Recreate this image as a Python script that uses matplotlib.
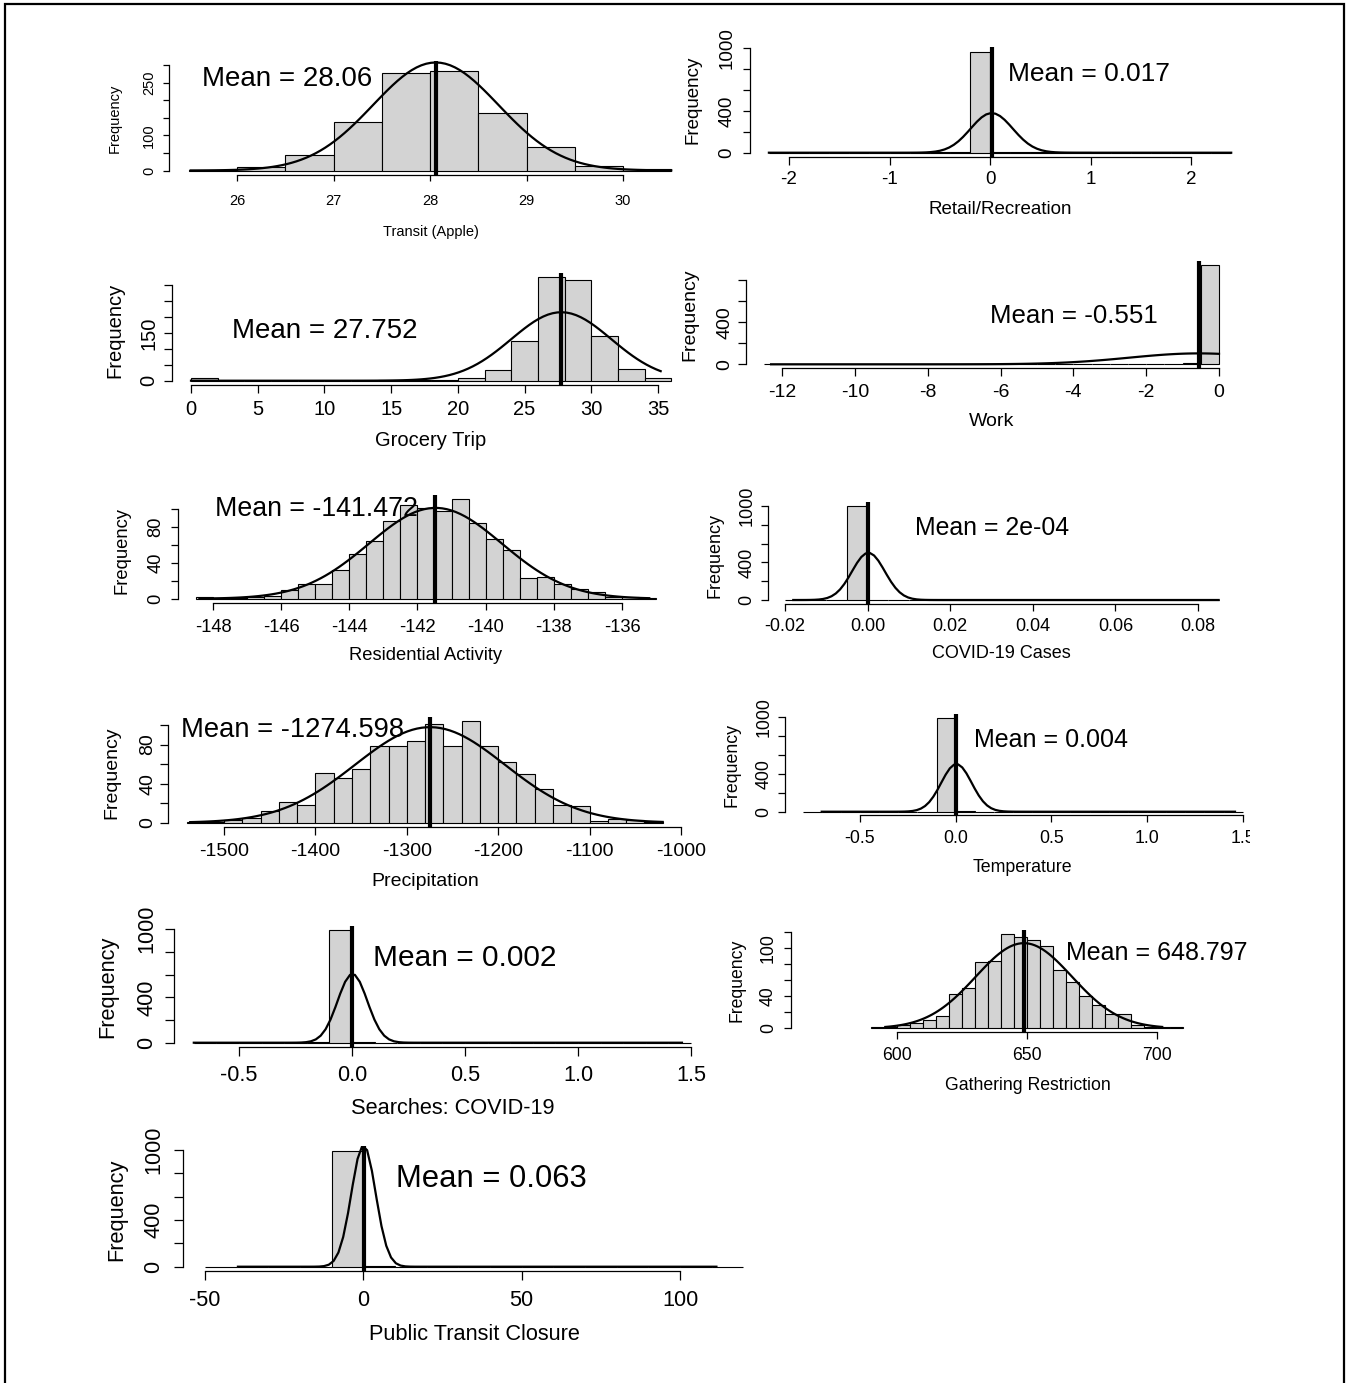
import numpy as np
import matplotlib
matplotlib.use("Agg")
import matplotlib.pyplot as plt
from matplotlib.patches import Rectangle
from matplotlib.transforms import Bbox, TransformedBbox

W, H, DPI = 1349, 1383, 100
plt.rcParams["font.family"] = ["Liberation Sans", "DejaVu Sans"]

# ---- values: counts per bin, (first break, bin width),
# ---- mean / sd of the fitted normal, data range of the fitted curve
transit_counts = [1, 10, 44, 139, 276, 284, 163, 66, 13, 5]
transit_bins = (25.5, 0.5)
transit_fit = (28.06, 0.65, 25.52, 30.5)

retail_counts = [1, 0, 0, 0, 0, 0, 0, 0, 2, 4, 967, 8, 6, 4, 3, 2, 1, 0, 0, 0, 0, 0, 1]
retail_bins = (-2.2, 0.2)
retail_fit = (0.017, 0.21, -2.2, 2.4)

grocery_counts = [10, 0, 0, 0, 0, 0, 0, 1, 2, 3, 8, 33, 125, 326, 315, 140, 38, 8]
grocery_bins = (0.0, 2.0)
grocery_fit = (27.752, 3.75, 0.0, 35.2)

work_counts = [1, 1, 0, 0, 0, 0, 0, 0, 0, 6, 1, 0, 0, 0, 4, 5, 6, 4, 4, 3, 3, 3, 4, 9, 942]
work_bins = (-12.5, 0.5)
work_fit = (-0.551, 1.92, -12.3, 0.0)

resid_counts = [2, 1, 1, 2, 3, 10, 16, 16, 32, 50, 65, 87, 105, 102, 98, 111, 85, 67, 54,
                23, 24, 16, 11, 7, 2, 2, 1]
resid_bins = (-148.5, 0.5)
resid_fit = (-141.472, 1.95, -148.4, -135.2)

cases_counts = [1, 0, 0, 997, 1, 0, 0, 0, 0, 0, 0, 0, 0, 0, 0, 0, 0, 0, 0, 0, 1]
cases_bins = (-0.02, 0.005)
cases_fit = (0.0002, 0.00397, -0.018, 0.085)

precip_counts = [1, 1, 3, 5, 12, 21, 18, 51, 46, 55, 78, 78, 84, 101, 78, 104, 78, 62, 50,
                 34, 18, 17, 2, 4, 3, 1]
precip_bins = (-1540, 20)
precip_fit = (-1274.598, 82.0, -1537, -1020)

temp_counts = [1, 0, 0, 0, 0, 0, 2, 990, 3, 1, 1, 0, 0, 0, 0, 0, 0, 0, 0, 0, 0, 0, 1]
temp_bins = (-0.8, 0.1)
temp_fit = (0.004, 0.0795, -0.70, 1.46)

search_counts = [1, 0, 0, 0, 0, 2, 992, 2, 1, 1, 0, 0, 0, 0, 0, 0, 0, 0, 0, 0, 0, 1]
search_bins = (-0.7, 0.1)
search_fit = (0.002, 0.0658, -0.70, 1.46)

gather_counts = [1, 1, 4, 6, 10, 15, 43, 50, 82, 83, 117, 113, 110, 102, 73, 58, 40, 29,
                 18, 18, 4, 2, 1, 1]
gather_bins = (590, 5)
gather_fit = (648.797, 18.5, 595.5, 702)

closure_counts = [0, 1, 0, 0, 995, 3, 0, 0, 0, 0, 0, 0, 0, 0, 0, 0, 1]
closure_bins = (-50, 10)
closure_fit = (0.063, 3.825, -39.6, 111.5)

# ---- layout (pixel calibration of each panel in the 1349x1383 picture)
PANELS = [
    dict(counts=transit_counts, bins=transit_bins, fit=transit_fit, xlabel="Transit (Apple)",
         note="Mean = 28.06", xcal=(26, 237, 30, 623), ycal=(0, 170.5, 300, 65),
         xlim=(25.5, 30.5), ylim=(0, 300), xticks=[26, 27, 28, 29, 30],
         yticks=[0, 50, 100, 150, 200, 250, 300], ylabs=[0, 100, 250],
         fs=10.5, note_fs=20, note_xy=(202, 76), xlab_xy=(431, 232), ylab_xy=(115, 118),
         ytick_x=148, xtick_y=199),
    dict(counts=retail_counts, bins=retail_bins, fit=retail_fit, xlabel="Retail/Recreation",
         note="Mean = 0.017", xcal=(-2, 789, 2, 1191), ycal=(0, 152.7, 1000, 48.3),
         xlim=(-2.2, 2.4), ylim=(0, 970), xticks=[-2, -1, 0, 1, 2],
         yticks=[0, 200, 400, 600, 800, 1000], ylabs=[0, 400, 1000],
         fs=13.5, note_fs=19, note_xy=(1008, 71), xlab_xy=(1000, 210), ylab_xy=(693, 100),
         ytick_x=725, xtick_y=178),
    dict(counts=grocery_counts, bins=grocery_bins, fit=grocery_fit, xlabel="Grocery Trip",
         note="Mean = 27.752", xcal=(0, 191, 35, 658), ycal=(0, 380.7, 300, 285),
         xlim=(0, 36), ylim=(0, 326), xticks=[0, 5, 10, 15, 20, 25, 30, 35],
         yticks=[0, 50, 100, 150, 200, 250, 300], ylabs=[0, 150],
         fs=14.5, note_fs=20, note_xy=(232, 328), xlab_xy=(431, 440), ylab_xy=(115, 330),
         ytick_x=147, xtick_y=407),
    dict(counts=work_counts, bins=work_bins, fit=work_fit, xlabel="Work",
         note="Mean = -0.551", xcal=(-12, 782, 0, 1219), ycal=(0, 364.3, 800, 280),
         xlim=(-12.5, 0), ylim=(0, 942), xticks=[-12, -10, -8, -6, -4, -2, 0],
         yticks=[0, 200, 400, 600, 800], ylabs=[0, 400],
         fs=14, note_fs=18.6, note_xy=(990, 313), xlab_xy=(992, 421), ylab_xy=(690, 315),
         ytick_x=722, xtick_y=391),
    dict(counts=resid_counts, bins=resid_bins, fit=resid_fit, xlabel="Residential Activity",
         note="Mean = -141.472", xcal=(-148, 213, -136, 622), ycal=(0, 598.7, 100, 509.3),
         xlim=(-148.5, -135), ylim=(0, 111), xticks=[-148, -146, -144, -142, -140, -138, -136],
         yticks=[0, 20, 40, 60, 80, 100], ylabs=[0, 40, 80],
         fs=13.2, note_fs=19.3, note_xy=(215, 506), xlab_xy=(426, 656), ylab_xy=(122, 550),
         ytick_x=154, xtick_y=626),
    dict(counts=cases_counts, bins=cases_bins, fit=cases_fit, xlabel="COVID-19 Cases",
         note="Mean = 2e-04", xcal=(-0.02, 785, 0.08, 1198), ycal=(0, 600, 1000, 506),
         xlim=(-0.02, 0.085), ylim=(0, 1000), xticks=[-0.02, 0.0, 0.02, 0.04, 0.06, 0.08],
         xfmt="{:.2f}", yticks=[0, 200, 400, 600, 800, 1000], ylabs=[0, 400, 1000],
         fs=13, note_fs=17.9, note_xy=(915, 526), xlab_xy=(1001, 654), ylab_xy=(715, 555),
         ytick_x=745, xtick_y=625),
    dict(counts=precip_counts, bins=precip_bins, fit=precip_fit, xlabel="Precipitation",
         note="Mean = -1274.598", xcal=(-1500, 224, -1000, 681), ycal=(0, 822.7, 100, 725),
         xlim=(-1540, -1020), ylim=(0, 104), xticks=[-1500, -1400, -1300, -1200, -1100, -1000],
         yticks=[0, 20, 40, 60, 80, 100], ylabs=[0, 40, 80],
         fs=14, note_fs=19.7, note_xy=(181, 727), xlab_xy=(425, 882), ylab_xy=(112, 773),
         ytick_x=145, xtick_y=850),
    dict(counts=temp_counts, bins=temp_bins, fit=temp_fit, xlabel="Temperature",
         note="Mean = 0.004", xcal=(-0.5, 860, 1.0, 1147), ycal=(0, 811.7, 1000, 716.7),
         xlim=(-0.8, 1.5), ylim=(0, 990), xticks=[-0.5, 0.0, 0.5, 1.0, 1.5], xfmt="{:.1f}",
         yticks=[0, 200, 400, 600, 800, 1000], ylabs=[0, 400, 1000],
         fs=12.8, note_fs=18, note_xy=(974, 737), xlab_xy=(1022, 867), ylab_xy=(732, 765),
         ytick_x=762, xtick_y=837, clip_right=1250),
    dict(counts=search_counts, bins=search_bins, fit=search_fit, xlabel="Searches: COVID-19",
         note="Mean = 0.002", xcal=(-0.5, 239, 1.5, 691), ycal=(0, 1042.7, 1000, 929.3),
         xlim=(-0.7, 1.5), ylim=(0, 990), xticks=[-0.5, 0.0, 0.5, 1.0, 1.5], xfmt="{:.1f}",
         yticks=[0, 200, 400, 600, 800, 1000], ylabs=[0, 400, 1000],
         fs=15.7, note_fs=21.5, note_xy=(373, 955), xlab_xy=(453, 1108), ylab_xy=(108, 987),
         ytick_x=145, xtick_y=1073),
    dict(counts=gather_counts, bins=gather_bins, fit=gather_fit, xlabel="Gathering Restriction",
         note="Mean = 648.797", xcal=(600, 897, 700, 1157), ycal=(0, 1028.3, 120, 931.7),
         xlim=(559.2, 714.8), xpad=False, ylim=(0, 117), xticks=[600, 650, 700],
         yticks=[0, 20, 40, 60, 80, 100, 120], ylabs=[0, 40, 100],
         fs=12.7, note_fs=18, note_xy=(1066, 951), xlab_xy=(1028, 1085), ylab_xy=(737, 980),
         ytick_x=767, xtick_y=1054),
    dict(counts=closure_counts, bins=closure_bins, fit=closure_fit, xlabel="Public Transit Closure",
         note="Mean = 0.063", xcal=(-50, 205, 100, 680), ycal=(0, 1266.7, 1000, 1150),
         xlim=(-50, 120), ylim=(0, 995), xticks=[-50, 0, 50, 100],
         yticks=[0, 200, 400, 600, 800, 1000], ylabs=[0, 400, 1000],
         fs=15.7, note_fs=22.3, note_xy=(396, 1176), xlab_xy=(474, 1335), ylab_xy=(117, 1210),
         ytick_x=152, xtick_y=1298),
]


def r_range(lo, hi):
    # R's default 4% axis extension
    d = 0.04 * (hi - lo)
    return lo - d, hi + d


def draw_panel(fig, p):
    xa, pxa, xb, pxb = p["xcal"]
    ya, pya, yb, pyb = p["ycal"]
    xpix = lambda v: pxa + (v - xa) * (pxb - pxa) / (xb - xa)
    ypix = lambda v: pya + (v - ya) * (pyb - pya) / (yb - ya)
    x0, x1 = r_range(*p["xlim"]) if p.get("xpad", True) else p["xlim"]
    y0, y1 = r_range(*p["ylim"])
    left, right, bottom, top = xpix(x0), xpix(x1), ypix(y0), ypix(y1)
    ax = fig.add_axes([left / W, 1 - bottom / H, (right - left) / W, (bottom - top) / H])
    ax.set_xlim(x0, x1)
    ax.set_ylim(y0, y1)
    ax.patch.set_alpha(0)

    counts = np.asarray(p["counts"], float)
    start, bw = p["bins"]
    edges = start + bw * np.arange(len(counts) + 1)
    ax.bar(edges[:-1], counts, width=bw, align="edge", color="#d3d3d3",
           edgecolor="black", linewidth=0.8)

    # fitted normal, scaled to counts (as R: dnorm * n * binwidth)
    mu, sd, lo, hi = p["fit"]
    xs = np.linspace(lo, hi, 101)
    ys = np.exp(-0.5 * ((xs - mu) / sd) ** 2) / (sd * np.sqrt(2 * np.pi)) * counts.sum() * bw
    ax.plot(xs, ys, color="black", lw=1.6)
    ax.axvline(mu, color="black", lw=3)

    fs = p["fs"]
    fs_px = fs * DPI / 72
    tl = 0.4 * fs
    tl_px = tl * DPI / 72
    for s in ("top", "right"):
        ax.spines[s].set_visible(False)
    for s in ("left", "bottom"):
        ax.spines[s].set_linewidth(0.9)
    ax.spines["left"].set_bounds(p["yticks"][0], p["yticks"][-1])
    ax.spines["bottom"].set_bounds(p["xticks"][0], p["xticks"][-1])

    fmt = p.get("xfmt", "{:g}")
    ax.set_xticks(p["xticks"], [fmt.format(v) for v in p["xticks"]])
    ax.set_yticks(p["yticks"], [str(v) if v in p["ylabs"] else "" for v in p["yticks"]])
    xpad = (p["xtick_y"] - bottom - tl_px - 0.37 * fs_px) * 72 / DPI
    ypad = (left - tl_px - p["ytick_x"] - 0.57 * fs_px) * 72 / DPI
    ax.tick_params(axis="x", length=tl, width=0.9, labelsize=fs, pad=xpad)
    ax.tick_params(axis="y", length=tl, width=0.9, labelsize=fs, pad=ypad)
    for t in ax.get_yticklabels():
        t.set_rotation(90)
        t.set_va("center")
    if "clip_right" in p:
        box = TransformedBbox(Bbox([[0, 0], [p["clip_right"] / W, 1]]), fig.transFigure)
        for t in ax.get_xticklabels():
            t.set_clip_box(box)
            t.set_clip_on(True)

    ax.set_xlabel(p["xlabel"], fontsize=fs, va="center")
    ax.set_ylabel("Frequency", fontsize=fs, va="center")
    lx, ly = p["xlab_xy"]
    ax.xaxis.set_label_coords(lx / W, 1 - ly / H, transform=fig.transFigure)
    lx, ly = p["ylab_xy"]
    ax.yaxis.set_label_coords(lx / W, 1 - ly / H, transform=fig.transFigure)

    nx, ny = p["note_xy"]
    ny += 0.1 * p["note_fs"] * DPI / 72
    fig.text(nx / W, 1 - ny / H, p["note"], fontsize=p["note_fs"], ha="left", va="center")


def main():
    fig = plt.figure(figsize=(W / DPI, H / DPI), dpi=DPI)
    for p in PANELS:
        draw_panel(fig, p)
    fig.add_artist(Rectangle((5 / W, -0.02), (1344 - 5) / W, 1.02 - 4 / H,
                             transform=fig.transFigure, fill=False, lw=1.6, ec="black"))
    fig.savefig("out.png", dpi=DPI)


if __name__ == "__main__":
    main()
